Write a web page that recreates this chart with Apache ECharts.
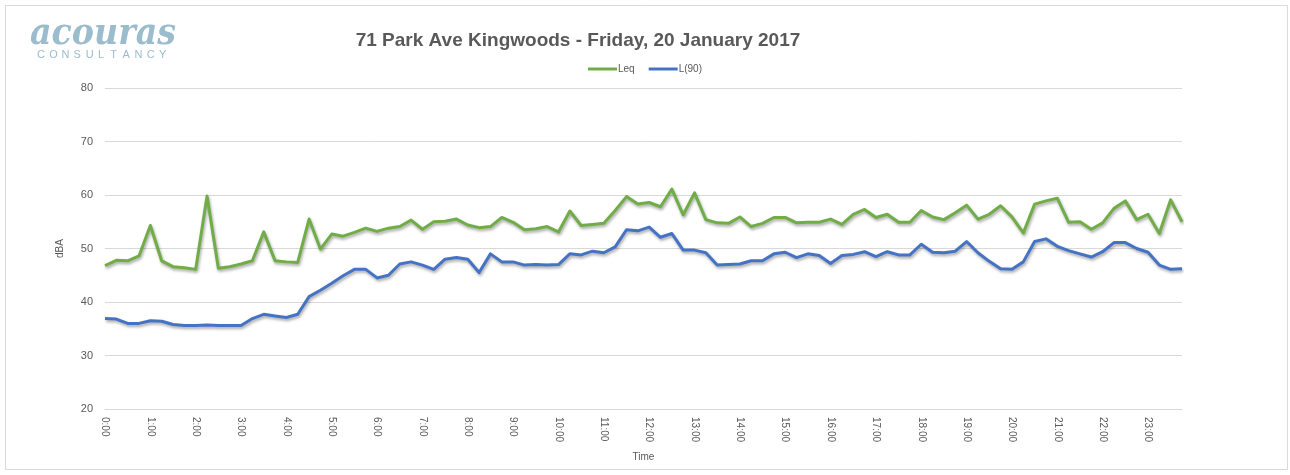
<!DOCTYPE html>
<html>
<head>
<meta charset="utf-8">
<script src="https://cdn.jsdelivr.net/npm/echarts@6/dist/echarts.min.js"></script>
<style>
  html, body { margin: 0; padding: 0; background: #ffffff; }
  #chart { width: 1290px; height: 475px; }
</style>
</head>
<body>
<div id="chart"></div>
<script>
// 15-minute intervals across the day
const times = [];
for (let h = 0; h < 24; h++) {
  for (let m = 0; m < 60; m += 15) {
    times.push(h + ':' + (m === 0 ? '00' : String(m)));
  }
}

// Equivalent continuous level, dBA
const leq = [
  46.8, 47.8, 47.7, 48.6, 54.3, 47.7, 46.6, 46.4, 46.1, 59.8,
  46.3, 46.6, 47.1, 47.7, 53.1, 47.7, 47.5, 47.4, 55.5, 49.9,
  52.7, 52.3, 53.0, 53.8, 53.2, 53.8, 54.1, 55.3, 53.6, 55.0,
  55.1, 55.5, 54.4, 53.9, 54.1, 55.8, 54.9, 53.5, 53.7, 54.1,
  53.1, 57.0, 54.3, 54.5, 54.7, 57.1, 59.7, 58.3, 58.6, 57.8,
  61.1, 56.3, 60.4, 55.4, 54.8, 54.7, 55.9, 54.1, 54.7, 55.8,
  55.8, 54.8, 54.9, 54.9, 55.5, 54.5, 56.4, 57.3, 55.8, 56.4,
  54.9, 54.9, 57.1, 55.9, 55.4, 56.7, 58.1, 55.5, 56.4, 58.0,
  55.9, 52.9, 58.3, 58.9, 59.4, 54.9, 55.0, 53.6, 54.8, 57.5,
  58.9, 55.4, 56.4, 52.8, 59.1, 55.0
];

// Background level L(90), dBA
const l90 = [
  36.9, 36.8, 36.0, 36.0, 36.5, 36.4, 35.8, 35.6, 35.6, 35.7,
  35.6, 35.6, 35.6, 36.9, 37.7, 37.4, 37.1, 37.7, 41.0, 42.2,
  43.5, 44.9, 46.1, 46.1, 44.5, 45.0, 47.1, 47.5, 46.9, 46.1,
  48.0, 48.3, 48.0, 45.5, 49.0, 47.5, 47.5, 46.9, 47.0, 46.9,
  47.0, 49.0, 48.8, 49.5, 49.2, 50.3, 53.5, 53.3, 54.0, 52.1,
  52.8, 49.7, 49.7, 49.2, 46.9, 47.0, 47.1, 47.7, 47.7, 49.0,
  49.3, 48.3, 49.0, 48.7, 47.2, 48.7, 48.9, 49.4, 48.5, 49.4,
  48.8, 48.8, 50.8, 49.3, 49.2, 49.5, 51.3, 49.2, 47.6, 46.2,
  46.1, 47.5, 51.3, 51.8, 50.4, 49.6, 49.0, 48.4, 49.4, 51.1,
  51.1, 50.0, 49.3, 46.9, 46.1, 46.2
];

const brandWord = 'CONSULTANCY';
const FONT = '"Liberation Sans", "Open Sans", sans-serif';
const TEXT_COLOR = '#595959';
const BRAND_COLOR = '#9bbccd';

// Spaced-out lettering under the logo word
const brandLetters = brandWord.split('').map((ch, i) => ({
  type: 'text',
  left: 37 + i * 12.2,
  top: 49,
  style: { text: ch, fill: BRAND_COLOR, font: '11px ' + FONT }
}));

const chart = echarts.init(document.getElementById('chart'), null, { renderer: 'canvas' });

const lineShadow = { shadowColor: 'rgba(0,0,0,0.35)', shadowBlur: 3, shadowOffsetX: 1, shadowOffsetY: 2 };

chart.setOption({
  animation: false,
  backgroundColor: '#ffffff',
  title: {
    text: '71 Park Ave Kingwoods - Friday, 20 January 2017',
    left: 573,
    textAlign: 'center',
    top: 26,
    textStyle: { fontFamily: FONT, fontSize: 19, fontWeight: 'bold', color: TEXT_COLOR }
  },
  legend: {
    top: 59,
    left: 'center',
    itemWidth: 29,
    itemHeight: 3,
    itemGap: 14,
    icon: 'rect',
    textStyle: { fontFamily: FONT, fontSize: 10, color: TEXT_COLOR, padding: [0, 0, 0, -4] },
    data: ['Leq', 'L(90)']
  },
  graphic: [
    {
      type: 'rect',
      shape: { x: 5.5, y: 5.5, width: 1282, height: 464 },
      style: { fill: 'none', stroke: '#d9d9d9', lineWidth: 1 },
      silent: true
    },
    {
      type: 'text',
      x: 30,
      y: 15,
      scaleX: 0.875,
      style: {
        text: 'acouras',
        fill: BRAND_COLOR,
        font: 'italic bold 38px "DejaVu Serif", "Liberation Serif", serif'
      }
    }
  ].concat(brandLetters),
  grid: { left: 105, right: 108, top: 88, bottom: 66 },
  xAxis: {
    type: 'category',
    data: times,
    boundaryGap: false,
    name: 'Time',
    nameLocation: 'middle',
    nameGap: 43,
    nameTextStyle: { fontFamily: FONT, fontSize: 10, color: TEXT_COLOR },
    axisLine: { lineStyle: { color: '#d9d9d9', width: 1 } },
    axisTick: { show: false },
    axisLabel: {
      interval: 3,
      rotate: -90,
      fontFamily: FONT,
      fontSize: 10,
      color: TEXT_COLOR,
      margin: 8
    },
    splitLine: { show: false }
  },
  yAxis: {
    type: 'value',
    min: 20,
    max: 80,
    interval: 10,
    name: 'dBA',
    nameLocation: 'middle',
    nameGap: 40,
    nameRotate: 90,
    nameTextStyle: { fontFamily: FONT, fontSize: 10, color: TEXT_COLOR },
    axisLine: { show: false },
    axisTick: { show: false },
    axisLabel: { fontFamily: FONT, fontSize: 11, color: TEXT_COLOR, margin: 12 },
    splitLine: { lineStyle: { color: '#d9d9d9', width: 1 } }
  },
  series: [
    {
      name: 'Leq',
      type: 'line',
      data: leq,
      showSymbol: false,
      symbol: 'none',
      color: '#70ad47',
      lineStyle: Object.assign({ width: 3, color: '#70ad47', join: 'round' }, lineShadow)
    },
    {
      name: 'L(90)',
      type: 'line',
      data: l90,
      showSymbol: false,
      symbol: 'none',
      color: '#4472c4',
      lineStyle: Object.assign({ width: 3, color: '#4472c4', join: 'round' }, lineShadow)
    }
  ]
});
</script>
</body>
</html>
